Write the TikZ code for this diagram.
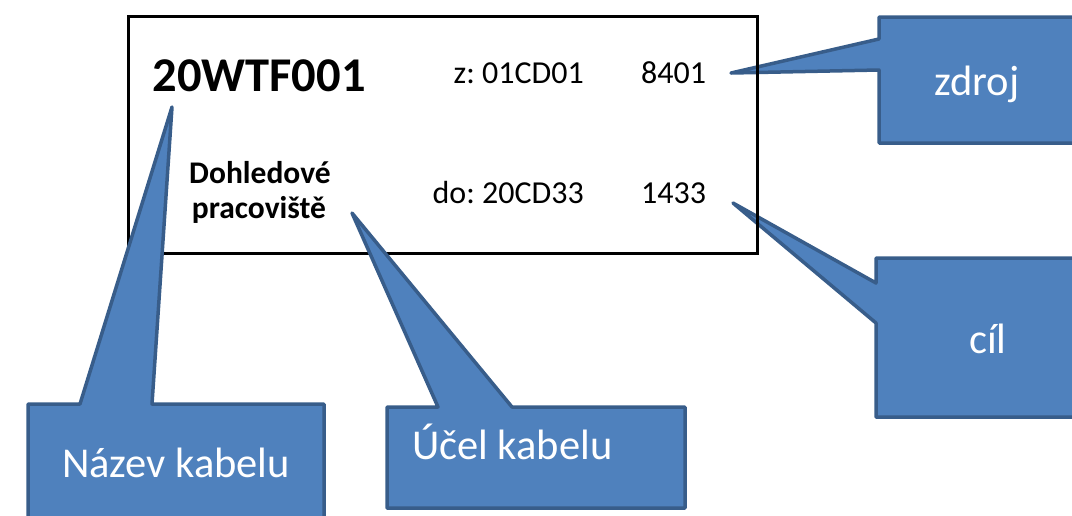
\documentclass[tikz,border=0pt]{standalone}
\usepackage{fontspec}
\setmainfont{Carlito}
\frenchspacing
\definecolor{cfill}{HTML}{4F81BD}
\definecolor{cline}{HTML}{385D8A}
\begin{document}
\begin{tikzpicture}[x=1pt,y=-1pt,
  callout/.style={fill=cfill,draw=cline,line width=3.5pt,line join=round},
  ctext/.style={text=white,font=\fontsize{42.5}{50}\selectfont,inner sep=0pt},
  btext/.style={font=\fontsize{32}{38}\selectfont,inner sep=0pt},
  ptext/.style={font=\fontsize{31.5}{38}\selectfont\bfseries,inner sep=0pt,anchor=base},
  labelbox/.style={draw=black,line width=3pt,inner sep=0pt,minimum width=629pt,minimum height=237pt}]
\useasboundingbox (0,0) rectangle (1072,515);
\clip (0,0) rectangle (1072,515);
% tips of the callouts
\coordinate (tipZ) at (731,73);
\coordinate (tipC) at (733,203);
\coordinate (tipN) at (172,107);
\coordinate (tipU) at (352,213);
% zdroj callout
\draw[callout] (879,17) -- (1095,17) -- (1095,143) -- (879,143) -- (879,70) -- (tipZ) -- (879,39) -- cycle;
\node[ctext,anchor=base] (zdroj) at (977,95) {zdroj};
% cil callout
\draw[callout] (876,258) -- (1095,258) -- (1095,417) -- (876,417) -- (876,323) -- (tipC) -- (876,283) -- cycle;
\node[ctext,anchor=base] (cil) at (988,353) {cíl};
% label box
\node[labelbox,anchor=north west] (label) at (127,15) {};
\node[font=\fontsize{48.5}{58}\selectfont\bfseries,inner sep=0pt,anchor=base] (name) at (259,91) {20WTF001};
\node[btext,anchor=base east] (from) at (584,83) {z: 01CD01};
\node[btext,anchor=base west] (fromnum) at (641,83) {8401};
\node[btext,anchor=base east] (to) at (584,203) {do: 20CD33};
\node[btext,anchor=base west] (tonum) at (641,203) {1433};
\node[ptext] (purp1) at (260,183) {Dohledové};
\node[ptext] (purp2) at (259,218) {pracoviště};
% Nazev callout
\draw[callout] (28,404) -- (80,404) -- (tipN) -- (152,404) -- (324,404) -- (324,530) -- (28,530) -- cycle;
\node[ctext,anchor=base] (nazev) at (176,477) {Název kabelu};
% Ucel callout
\draw[callout] (387,407) -- (438,407) -- (tipU) -- (512,407) -- (685,407) -- (685,508) -- (387,508) -- cycle;
\node[ctext,anchor=base west] (ucel) at (412,459) {Účel kabelu};
\end{tikzpicture}
\end{document}
